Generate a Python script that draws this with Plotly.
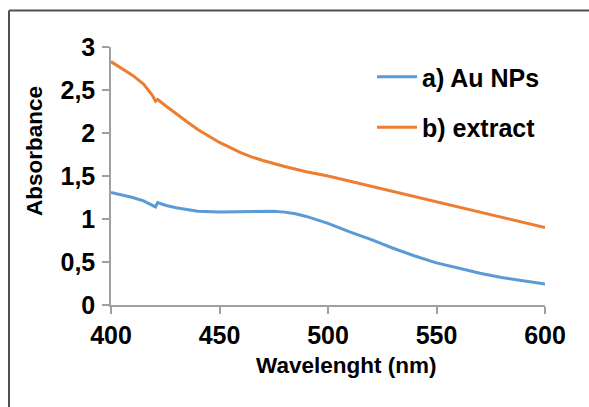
import plotly.graph_objects as go

wl_np = [400, 405, 410, 415, 420.5, 421.5, 425, 430, 435, 440, 450, 460, 470, 475, 480, 485, 490, 495,
         500, 505, 510, 520, 530, 540, 550, 560, 570, 580, 590, 600]
abs_np = [1.31, 1.28, 1.25, 1.21, 1.14, 1.19, 1.16, 1.13, 1.11, 1.09, 1.08, 1.085, 1.09, 1.09, 1.08, 1.06, 1.03, 0.99,
          0.95, 0.90, 0.85, 0.76, 0.66, 0.57, 0.49, 0.43, 0.37, 0.32, 0.28, 0.245]

wl_ex = [400, 405, 410, 415, 419, 420.5, 421.5, 425, 430, 435, 440, 445, 450, 455, 460, 465, 470, 480, 490,
         500, 510, 520, 530, 540, 550, 560, 570, 580, 590, 600]
abs_ex = [2.83, 2.75, 2.67, 2.57, 2.44, 2.37, 2.39, 2.32, 2.22, 2.13, 2.04, 1.96, 1.89, 1.83, 1.77, 1.72, 1.68, 1.61, 1.55,
          1.50, 1.44, 1.38, 1.32, 1.26, 1.20, 1.14, 1.08, 1.02, 0.96, 0.90]

names = ["a) Au NPs", "b) extract"]
colors = ["#5B9BD5", "#ED7D31"]

x_ticks = [400, 450, 500, 550, 600]
y_ticks = [0, 0.5, 1, 1.5, 2, 2.5, 3]

FONT = "Liberation Sans, Arial, sans-serif"

fig = go.Figure()
fig.add_trace(go.Scatter(x=wl_np, y=abs_np, mode="lines", name=names[0], legendgroup="a",
                         line=dict(color=colors[0], width=3)))
fig.add_trace(go.Scatter(x=wl_ex, y=abs_ex, mode="lines", name=names[1], legendgroup="b",
                         line=dict(color=colors[1], width=3)))

L, R, T, B = 111, 44, 47, 102
W, H = 589, 407
pw, ph = W - L - R, H - T - B


def px(x):
    return (x - L) / pw


def py(y):
    return (H - B - y) / ph


fig.update_layout(
    width=W, height=H,
    margin=dict(l=L, r=R, t=T, b=B),
    paper_bgcolor="white", plot_bgcolor="white",
    separators=", ",
    font=dict(family=FONT, color="black", size=24, weight="bold"),
    showlegend=True,
    legend=dict(x=px(372), y=py(54), xanchor="left", yanchor="top",
                bgcolor="rgba(0,0,0,0)", font=dict(size=25, weight="bold"),
                traceorder="grouped", tracegroupgap=15, itemwidth=40),
    xaxis=dict(range=[400, 600], tickvals=x_ticks, showgrid=False, zeroline=False,
               showline=True, linecolor="#a0a0a0", linewidth=1.5,
               ticks="outside", ticklen=7, tickcolor="#a0a0a0", tickwidth=1.5,
               tickfont=dict(size=25, weight="bold")),
    yaxis=dict(range=[0, 3], tickvals=y_ticks, showgrid=False, zeroline=False,
               showline=True, linecolor="#a0a0a0", linewidth=1.5,
               ticks="outside", ticklen=7, tickcolor="#a0a0a0", tickwidth=1.5,
               tickfont=dict(size=25, weight="bold"), ticklabelstandoff=2),
    annotations=[
        dict(text="Wavelenght (nm)", xref="paper", yref="paper", x=px(346), y=py(365),
             showarrow=False, font=dict(size=22.5, weight="bold"), xanchor="center", yanchor="middle"),
        dict(text="Absorbance", xref="paper", yref="paper", x=px(34), y=py(151),
             showarrow=False, textangle=-90, font=dict(size=22.5, weight="bold"),
             xanchor="center", yanchor="middle"),
    ],
    shapes=[
        dict(type="line", xref="paper", yref="paper", x0=px(9), x1=px(592), y0=py(10.5), y1=py(10.5),
             line=dict(color="#505050", width=2)),
        dict(type="line", xref="paper", yref="paper", x0=px(9), x1=px(9), y0=py(10.5), y1=py(410),
             line=dict(color="#505050", width=2)),
    ],
)

fig.write_html("out.html")
